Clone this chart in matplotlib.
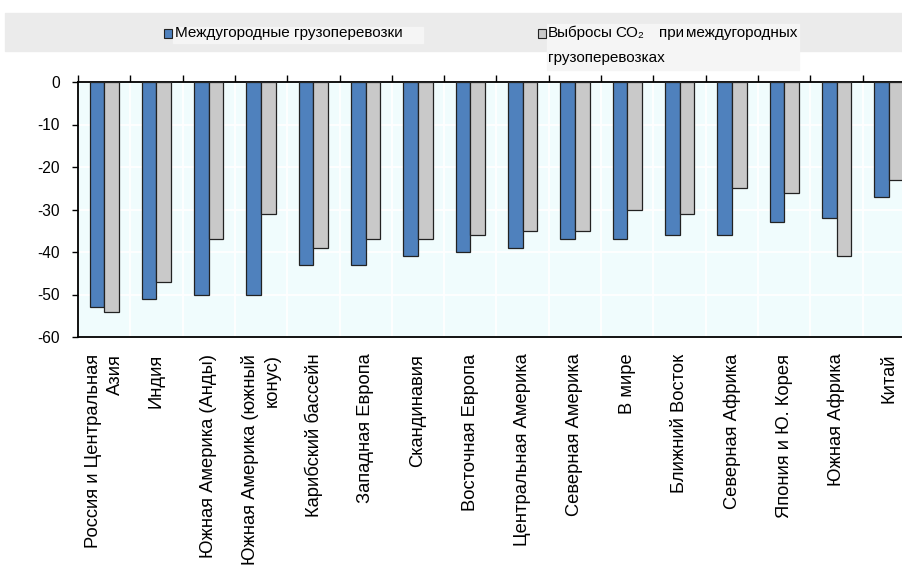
import matplotlib
matplotlib.use('Agg')
import matplotlib.pyplot as plt
from matplotlib.patches import Rectangle
import numpy as np

plt.rcParams['font.family'] = ['Liberation Sans', 'DejaVu Sans']

# данные
regions = ['Россия и Центральная\nАзия', 'Индия', 'Южная Америка (Анды)',
           'Южная Америка (южный\nконус)', 'Карибский бассейн', 'Западная Европа',
           'Скандинавия', 'Восточная Европа', 'Центральная Америка',
           'Северная Америка', 'В мире', 'Ближний Восток', 'Северная Африка',
           'Япония и Ю. Корея', 'Южная Африка', 'Китай']
freight = [-53, -51, -50, -50, -43, -43, -41, -40, -39, -37, -37, -36, -36, -33, -32, -27]
co2 = [-54, -47, -37, -31, -39, -37, -37, -36, -35, -35, -30, -31, -25, -26, -41, -23]
yticks = [0, -10, -20, -30, -40, -50, -60]

blue = '#4f81bd'
grey = '#c9c9c9'

fig = plt.figure(figsize=(9.03, 5.66), dpi=100)
W, H = 903, 566

# серая полоса легенды
fig.patches.append(Rectangle((5 / W, 1 - 51 / H), 898 / W, 38 / H,
                             transform=fig.transFigure, color='#ebebeb', zorder=0))
fig.patches.append(Rectangle((173 / W, 1 - 43 / H), 250 / W, 16 / H,
                             transform=fig.transFigure, color='#f5f5f5', zorder=1))
fig.patches.append(Rectangle((547 / W, 1 - 70 / H), 252 / W, 46 / H,
                             transform=fig.transFigure, color='#f5f5f5', zorder=1))
fig.patches.append(Rectangle((164 / W, 1 - 38 / H), 8 / W, 9 / H, transform=fig.transFigure,
                             facecolor=blue, edgecolor='#222222', lw=0.8, zorder=2))
fig.patches.append(Rectangle((538 / W, 1 - 38 / H), 8 / W, 9 / H, transform=fig.transFigure,
                             facecolor=grey, edgecolor='#222222', lw=0.8, zorder=2))
fs = 11.2
lfs = 11
fig.text(175 / W, 1 - 33 / H, 'Междугородные грузоперевозки', fontsize=lfs, va='center')
fig.text(548 / W, 1 - 33 / H, 'Выбросы', fontsize=lfs, va='center')
fig.text(615 / W, 1 - 33 / H, 'CO₂', fontsize=lfs, va='center')
fig.text(659 / W, 1 - 33 / H, 'при', fontsize=lfs, va='center')
fig.text(797 / W, 1 - 33 / H, 'междугородных', fontsize=lfs, va='center', ha='right')
fig.text(548 / W, 1 - 58 / H, 'грузоперевозках', fontsize=lfs, va='center')

ax = fig.add_axes([78 / W, 1 - 337 / H, 837 / W, 255 / H])
ax.set_facecolor('#f0fcfd')

x = np.arange(len(regions))
bw = 0.28
ax.bar(x - bw / 2, freight, bw, color=blue, edgecolor='#222222', linewidth=0.9, zorder=3)
ax.bar(x + bw / 2, co2, bw, color=grey, edgecolor='#222222', linewidth=0.9, zorder=3)

ax.set_xlim(-0.5, len(regions) - 0.5)
ax.set_ylim(-60, 0)
ax.set_yticks(yticks)
ax.set_yticklabels([str(v) for v in yticks], fontsize=fs)
ax.tick_params(axis='y', direction='out', length=4, width=1, pad=9)

# границы категорий сверху, подписи снизу
ax.set_xticks(np.arange(len(regions) + 1) - 0.5)
ax.set_xticks(x, minor=True)
ax.set_xticklabels(regions, minor=True, rotation=90, fontsize=13.2,
                   va='top', ha='center', multialignment='right', linespacing=1.4)
ax.tick_params(axis='x', which='major', top=True, bottom=False, labelbottom=False,
               direction='out', length=5, width=1)
ax.tick_params(axis='x', which='minor', length=0, pad=12)

ax.grid(True, which='major', color='white', linewidth=1.3, zorder=0)
ax.set_axisbelow(True)
for s in ['left', 'top', 'bottom']:
    ax.spines[s].set_linewidth(1.3)
ax.spines['right'].set_visible(False)

fig.savefig('out.png', dpi=100)
